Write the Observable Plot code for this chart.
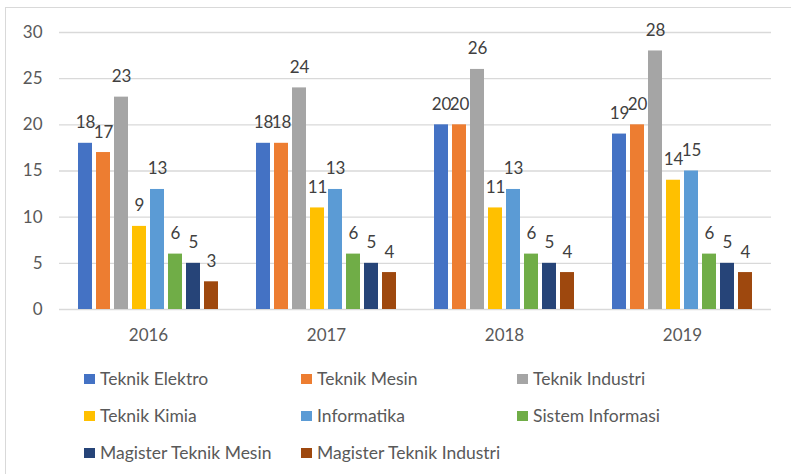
<!DOCTYPE html>
<html>
<head>
<meta charset="utf-8">
<script src="https://cdn.jsdelivr.net/npm/d3@7"></script>
<script src="https://cdn.jsdelivr.net/npm/@observablehq/plot@0.6"></script>
<style>
  html, body { margin: 0; padding: 0; background: #fff; }
  #wrap { position: relative; width: 791px; height: 474px; overflow: hidden; font-family: Lato, sans-serif; }
  #border { position: absolute; left: 5px; top: 7px; right: -10px; bottom: -10px;
            border-left: 1.5px solid #d9d9d9; border-top: 1.5px solid #d9d9d9; pointer-events: none; }
  #chart svg { display: block; }
  #legend { position: relative; height: 114px; display: grid;
            grid-template-columns: 217px 216px 216px; grid-auto-rows: 37px;
            padding-left: 84px; box-sizing: border-box; color: #595959; font-size: 17.5px; }
  .item { display: flex; align-items: center; height: 37px; }
  .sw { width: 11px; height: 10px; margin-right: 5px; flex: none; }
</style>
</head>
<body>
<div id="wrap">
  <div id="chart"></div>
  <div id="legend"></div>
  <div id="border"></div>
</div>
<script>
const years = ["2016", "2017", "2018", "2019"];
const programs = ["Teknik Elektro", "Teknik Mesin", "Teknik Industri", "Teknik Kimia",
                  "Informatika", "Sistem Informasi", "Magister Teknik Mesin", "Magister Teknik Industri"];
const colors = ["#4472C4", "#ED7D31", "#A5A5A5", "#FFC000", "#5B9BD5", "#70AD47", "#264478", "#9E480E"];

const teknikElektro = [18, 18, 20, 19];
const teknikMesin = [17, 18, 20, 20];
const teknikIndustri = [23, 24, 26, 28];
const teknikKimia = [9, 11, 11, 14];
const informatika = [13, 13, 13, 15];
const sistemInformasi = [6, 6, 6, 6];
const magisterTeknikMesin = [5, 5, 5, 5];
const magisterTeknikIndustri = [3, 4, 4, 4];
const yTicks = [0, 5, 10, 15, 20, 25, 30];

const series = [teknikElektro, teknikMesin, teknikIndustri, teknikKimia,
                informatika, sistemInformasi, magisterTeknikMesin, magisterTeknikIndustri];

const table = years.flatMap((yr, i) =>
  programs.map((p, j) => ({ year: yr, program: p, value: series[j][i] })));

const chart = Plot.plot({
  width: 791,
  height: 360,
  marginTop: 32,
  marginBottom: 51,
  marginLeft: 59,
  marginRight: 20,
  style: { fontFamily: "Lato, sans-serif", fontSize: "17px", color: "#595959", background: "transparent" },
  fx: { domain: years, padding: 0, axis: null },
  x: { domain: programs, paddingInner: 0.23, paddingOuter: 0.907, axis: null },
  y: { domain: [0, 30], axis: null },
  color: { domain: programs, range: colors },
  marks: [
    Plot.ruleY(yTicks, { stroke: "#d9d9d9", strokeWidth: 1.3 }),
    Plot.barY(table, { fx: "year", x: "program", y: "value", fill: "program" }),
    Plot.text(table, { fx: "year", x: "program", y: "value", text: d => String(d.value),
                       dy: -15, lineAnchor: "bottom", fill: "#404040" }),
    Plot.axisY(yTicks, { tickSize: 0, tickPadding: 17, label: null, fill: "#595959" }),
    Plot.axisFx({ anchor: "bottom", tickSize: 0, tickPadding: 19, label: null, fill: "#595959" })
  ]
});
document.getElementById("chart").appendChild(chart);

const legend = document.getElementById("legend");
programs.forEach((p, j) => {
  const it = document.createElement("div");
  it.className = "item";
  const sw = document.createElement("span");
  sw.className = "sw";
  sw.style.background = colors[j];
  const tx = document.createElement("span");
  tx.textContent = p;
  it.appendChild(sw);
  it.appendChild(tx);
  legend.appendChild(it);
});
</script>
</body>
</html>
